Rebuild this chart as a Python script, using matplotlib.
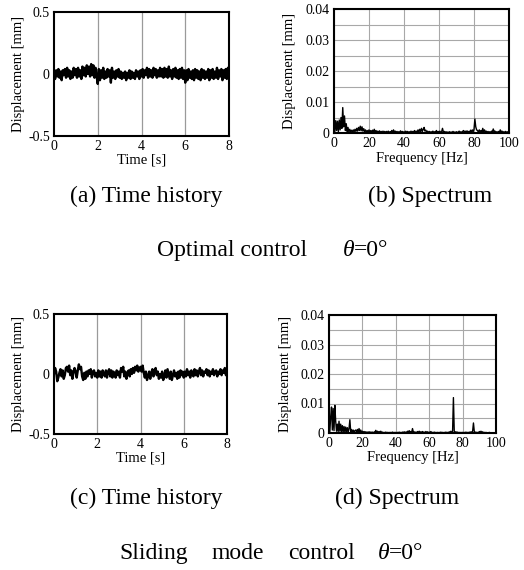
import numpy as np
import matplotlib
matplotlib.use("Agg")
import matplotlib.pyplot as plt
from matplotlib.ticker import MultipleLocator

plt.rcParams['font.family'] = ['Liberation Serif', 'DejaVu Serif']

# ---- data ----
# time histories, one value every 0.05 s (0 .. 8 s), displacement in mm
t_step = 0.05
disp_opt = [
    0.01, -0.04, 0.03, -0.02, 0.04, -0.03, 0.02, -0.05, 0.03, -0.01, 0.04, -0.03, 0.05, -0.02, 0.03, -0.04, 0.02, -0.03, 0.05, -0.01,
    0.04, -0.03, 0.05, -0.02, 0.03, -0.04, 0.06, -0.01, 0.05, -0.02, 0.07, 0.00, 0.06, -0.02, 0.08, -0.01, 0.07, -0.03, 0.05, -0.02,
    -0.08, 0.04, -0.05, 0.03, -0.03, 0.05, -0.04, 0.02, -0.03, 0.04, -0.02, 0.03, -0.07, 0.05, -0.03, 0.02, -0.04, 0.03, -0.02, 0.04,
    -0.03, 0.02, -0.04, 0.01, -0.03, 0.02, -0.05, 0.01, -0.03, 0.03, -0.04, 0.02, -0.03, 0.01, -0.04, 0.03, -0.02, 0.02, -0.04, 0.03,
    -0.02, 0.04, -0.03, 0.03, -0.01, 0.05, -0.03, 0.04, -0.02, 0.03, -0.03, 0.05, -0.01, 0.04, -0.03, 0.03, -0.02, 0.05, -0.02, 0.04,
    -0.03, 0.05, -0.02, 0.04, -0.03, 0.06, -0.02, 0.03, -0.04, 0.04, -0.02, 0.05, -0.03, 0.03, -0.04, 0.04, -0.03, 0.05, -0.04, 0.03,
    -0.07, 0.03, -0.05, 0.04, -0.03, 0.02, -0.04, 0.03, -0.05, 0.04, -0.03, 0.03, -0.04, 0.02, -0.05, 0.04, -0.03, 0.03, -0.04, 0.02,
    -0.03, 0.04, -0.05, 0.03, -0.03, 0.04, -0.04, 0.02, -0.03, 0.05, -0.04, 0.03, -0.02, 0.04, -0.05, 0.03, -0.03, 0.04, -0.04, 0.05,
    0.02,
]
disp_smc = [
    0.00, 0.05, 0.02, -0.06, -0.03, 0.01, 0.04, -0.02, 0.03, -0.04, -0.01, 0.05, 0.06, 0.02, 0.07, -0.01, 0.03, -0.04, 0.01, 0.05,
    0.02, -0.03, 0.03, 0.08, 0.04, 0.06, -0.02, -0.05, 0.01, -0.04, 0.02, -0.02, 0.03, 0.00, 0.04, -0.03, 0.02, 0.03, -0.02, 0.01,
    -0.03, 0.03, -0.02, 0.02, -0.03, 0.03, 0.00, -0.02, 0.03, -0.03, 0.02, 0.04, -0.02, 0.03, -0.03, 0.02, 0.00, -0.03, 0.03, -0.01,
    0.02, -0.03, 0.05, 0.02, 0.06, -0.02, 0.02, -0.04, 0.01, 0.03, -0.02, 0.04, 0.00, 0.05, 0.01, 0.06, 0.03, 0.07, 0.02, 0.05,
    0.06, 0.02, 0.07, 0.01, -0.03, 0.02, -0.05, -0.02, 0.02, -0.04, 0.01, 0.04, -0.02, 0.03, 0.05, -0.01, 0.02, -0.04, 0.00, -0.03,
    0.02, -0.05, -0.02, 0.03, -0.03, 0.04, 0.00, -0.04, 0.02, -0.05, -0.01, 0.03, -0.02, 0.01, -0.04, 0.02, -0.03, 0.03, -0.01, 0.02,
    -0.03, 0.02, -0.02, 0.04, -0.01, 0.02, -0.03, 0.03, 0.00, -0.02, 0.04, -0.01, 0.03, -0.02, 0.02, 0.05, -0.01, 0.03, -0.02, 0.02,
    0.01, 0.04, -0.01, 0.03, -0.02, 0.02, 0.00, 0.04, -0.01, 0.02, 0.03, -0.02, 0.02, 0.00, 0.04, -0.01, 0.03, 0.01, 0.05, -0.01,
    0.03,
]

# spectra, one value every 0.5 Hz (0 .. 100 Hz), amplitude in micrometres
f_step = 0.5
spec_opt_um = [
    4.5, 0.5, 4.0, 0.8, 3.8, 0.4, 4.2, 1.0, 5.0, 1.5, 8.2, 2.0, 5.5, 0.8, 3.0, 0.5, 1.8, 0.3, 1.2, 0.4,
    0.9, 0.3, 1.0, 0.4, 1.2, 0.5, 1.5, 0.6, 1.8, 0.8, 2.2, 0.7, 2.0, 0.6, 1.4, 0.4, 1.0, 0.3, 0.8, 0.3,
    1.0, 0.3, 0.8, 0.3, 0.9, 0.2, 1.2, 0.3, 0.8, 0.2, 0.6, 0.2, 0.7, 0.2, 0.5, 0.2, 0.6, 0.2, 0.5, 0.2,
    0.5, 0.2, 0.6, 0.2, 0.4, 0.2, 0.8, 0.2, 1.0, 0.3, 0.6, 0.2, 0.5, 0.2, 0.4, 0.2, 0.7, 0.2, 0.5, 0.2,
    0.4, 0.2, 0.6, 0.2, 0.5, 0.2, 0.4, 0.2, 0.6, 0.2, 0.5, 0.2, 0.8, 0.3, 0.6, 0.2, 1.0, 0.3, 1.2, 0.4,
    1.5, 0.5, 1.2, 1.8, 0.6, 0.9, 0.3, 0.6, 0.2, 0.5, 0.2, 0.4, 0.2, 0.6, 0.2, 0.4, 0.2, 0.8, 0.2, 0.5,
    0.3, 0.6, 0.2, 0.4, 1.5, 0.3, 0.5, 0.2, 0.4, 0.2, 0.3, 0.2, 0.4, 0.2, 0.3, 0.2, 0.5, 0.2, 0.3, 0.2,
    0.4, 0.2, 0.3, 0.6, 0.2, 0.4, 0.2, 0.5, 0.8, 0.3, 0.6, 0.2, 0.7, 0.3, 0.5, 0.2, 0.9, 0.3, 1.0, 0.4,
    1.2, 4.5, 2.0, 1.0, 0.8, 0.3, 1.0, 0.4, 0.8, 0.3, 1.5, 0.4, 1.0, 0.3, 0.6, 0.2, 0.5, 0.2, 0.4, 0.2,
    0.6, 0.3, 1.3, 0.4, 0.6, 0.2, 0.4, 0.2, 0.5, 0.2, 1.0, 0.3, 0.6, 0.2, 0.4, 0.2, 0.5, 0.2, 0.4, 0.2,
    0.3,
]
spec_smc_um = [
    5.0, 0.5, 5.5, 8.8, 1.0, 8.3, 0.8, 9.4, 4.0, 0.6, 3.0, 0.5, 4.0, 0.6, 3.0, 0.4, 2.5, 0.4, 2.2, 0.3,
    2.0, 0.4, 1.8, 0.3, 1.5, 4.5, 0.4, 1.2, 0.3, 1.0, 0.3, 0.8, 1.0, 0.3, 1.2, 0.3, 1.5, 0.3, 1.0, 0.2,
    0.6, 0.2, 0.5, 0.2, 0.4, 0.2, 0.3, 0.2, 0.4, 0.2, 0.3, 0.2, 0.3, 0.1, 0.3, 0.2, 0.9, 0.3, 0.6, 0.2,
    0.5, 0.2, 0.6, 0.2, 0.3, 0.1, 0.2, 0.1, 0.3, 0.1, 0.2, 0.1, 0.2, 0.1, 0.2, 0.1, 0.3, 0.1, 0.2, 0.1,
    0.2, 0.1, 0.2, 0.1, 0.3, 0.1, 0.2, 0.1, 0.3, 0.1, 0.4, 0.2, 0.3, 0.1, 0.6, 0.2, 0.8, 0.3, 0.5, 0.2,
    1.5, 0.3, 0.4, 0.2, 0.3, 0.1, 0.5, 0.2, 0.6, 0.2, 0.4, 0.2, 0.5, 0.2, 0.3, 0.1, 0.5, 0.2, 0.4, 0.1,
    0.3, 0.2, 0.5, 0.1, 0.2, 0.1, 0.3, 0.1, 0.2, 0.1, 0.2, 0.1, 0.2, 0.1, 0.3, 0.1, 0.2, 0.1, 0.2, 0.1,
    0.3, 0.1, 0.2, 0.1, 0.4, 0.2, 0.6, 0.2, 0.5, 12.0, 0.6, 0.3, 0.4, 0.2, 0.3, 0.1, 0.2, 0.1, 0.2, 0.1,
    0.2, 0.1, 0.2, 0.1, 0.3, 0.1, 0.2, 0.1, 0.3, 0.1, 0.4, 0.2, 0.6, 3.4, 0.5, 0.2, 0.3, 0.1, 0.2, 0.1,
    0.5, 0.2, 0.6, 0.2, 0.4, 0.1, 0.2, 0.1, 0.2, 0.1, 0.1, 0.1, 0.2, 0.1, 0.1, 0.1, 0.1, 0.1, 0.1, 0.1,
    0.1,
]

time_ticks = [0, 2, 4, 6, 8]
disp_ticks = [-0.5, 0, 0.5]
disp_ticklabels = ['-0.5', '0', '0.5']
freq_ticks = [0, 20, 40, 60, 80, 100]
spec_ticks = [0, 0.01, 0.02, 0.03, 0.04]
spec_ticklabels = ['0', '0.01', '0.02', '0.03', '0.04']

t = np.arange(len(disp_opt)) * t_step
f = np.arange(len(spec_opt_um)) * f_step
spec_opt = np.array(spec_opt_um) / 1000.0
spec_smc = np.array(spec_smc_um) / 1000.0

W, H = 524, 570
fig = plt.figure(figsize=(W / 100, H / 100), dpi=100)


def box(l, t_, r, b):
    # pixel box -> figure fraction
    return [l / W, 1 - b / H, (r - l) / W, (b - t_) / H]


TICK_FS = 10
LAB_FS = 10.5


def style_axes(ax, xlab, lab_x, lab_y):
    ax.tick_params(which='both', length=0, pad=3, labelsize=TICK_FS)
    ax.set_xlabel(xlab, fontsize=LAB_FS)
    ax.set_ylabel('Displacement [mm]', fontsize=LAB_FS)
    ax.yaxis.set_label_coords(lab_x, 0.5)
    ax.xaxis.set_label_coords(0.5, lab_y)
    for s in ax.spines.values():
        s.set_linewidth(1.5)


def time_axes(rect, y, lab_x, lab_y):
    ax = fig.add_axes(rect)
    ax.plot(t, y, color='black', lw=1.7)
    ax.set_xlim(0, 8)
    ax.set_ylim(-0.5, 0.5)
    ax.set_xticks(time_ticks)
    ax.set_yticks(disp_ticks)
    ax.set_yticklabels(disp_ticklabels)
    for x in time_ticks[1:-1]:
        ax.axvline(x, color='#9a9a9a', lw=0.9, zorder=0)
    style_axes(ax, 'Time [s]', lab_x, lab_y)
    return ax


def spec_axes(rect, y, lab_x, lab_y):
    ax = fig.add_axes(rect)
    ax.plot(f, y, color='black', lw=1.0)
    ax.set_xlim(0, 100)
    ax.set_ylim(0, 0.04)
    ax.set_xticks(freq_ticks)
    ax.set_yticks(spec_ticks)
    ax.set_yticklabels(spec_ticklabels)
    ax.yaxis.set_minor_locator(MultipleLocator(0.005))
    ax.grid(True, which='major', color='#a8a8a8', lw=0.8)
    ax.grid(True, which='minor', axis='y', color='#a8a8a8', lw=0.8)
    ax.set_axisbelow(True)
    style_axes(ax, 'Frequency [Hz]', lab_x, lab_y)
    return ax


time_axes(box(54, 12, 229, 136), disp_opt, -0.166, -0.145)
spec_axes(box(334, 9, 509, 133), spec_opt, -0.217, -0.15)
time_axes(box(54, 314, 227, 434), disp_smc, -0.168, -0.15)
spec_axes(box(329, 315, 496, 433), spec_smc, -0.223, -0.155)

CAP_FS = 17


def ftext(x, y, s, **kw):
    fig.text(x / W, 1 - y / H, s, fontsize=CAP_FS, va='baseline', **kw)


ftext(146, 202, '(a) Time history', ha='center')
ftext(430, 202, '(b) Spectrum', ha='center')
ftext(146, 504, '(c) Time history', ha='center')
ftext(397, 504, '(d) Spectrum', ha='center')

ftext(157, 256, 'Optimal control', ha='left')
ftext(343, 256, 'θ', ha='left', style='italic')
ftext(354, 256, '=0°', ha='left')

ftext(119, 559, 'Sliding', ha='left')
ftext(212, 559, 'mode', ha='left')
ftext(288, 559, 'control', ha='left')
ftext(378, 559, 'θ', ha='left', style='italic')
ftext(389, 559, '=0°', ha='left')

fig.savefig('out.png', dpi=100)
